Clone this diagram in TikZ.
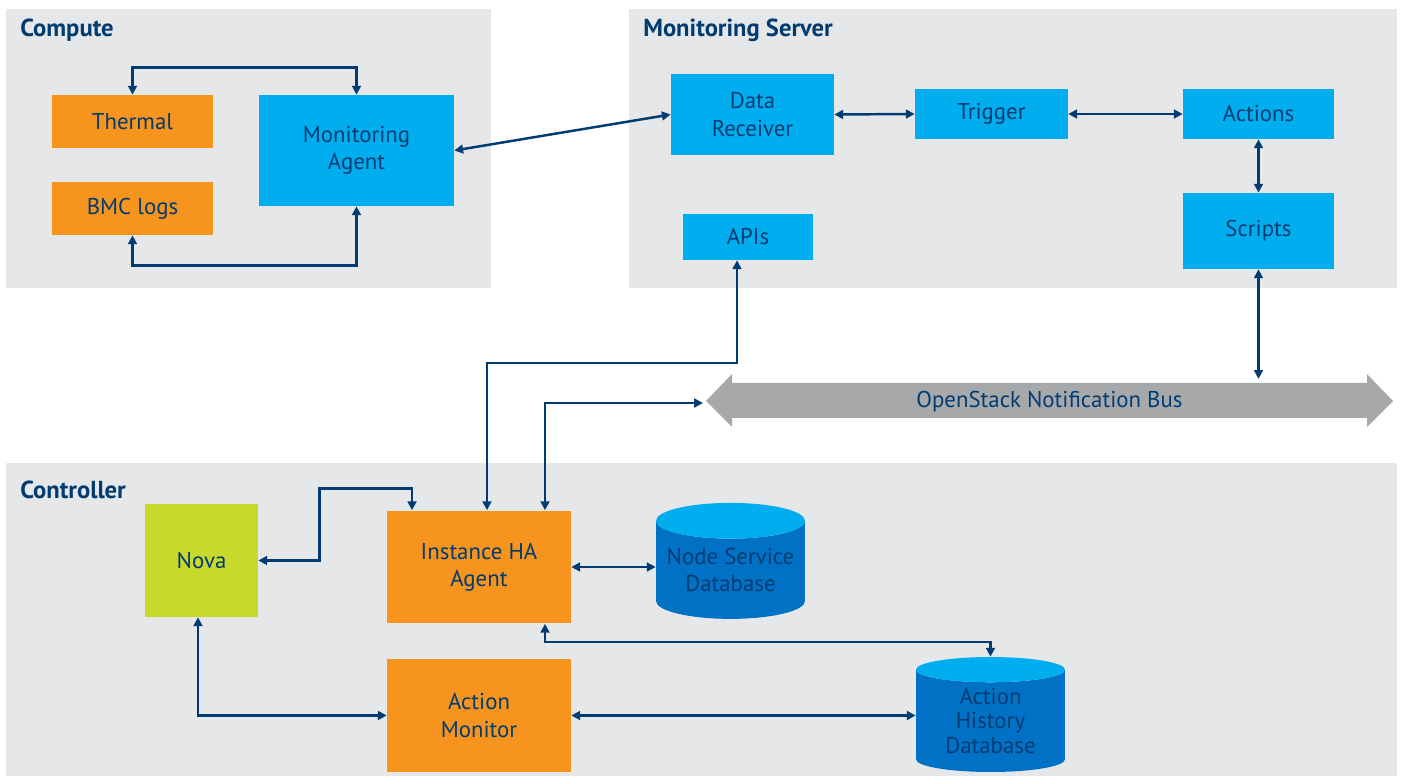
\documentclass[tikz,border=0pt]{standalone}
\usepackage{fontspec}
\setmainfont{PT Sans}
\usetikzlibrary{arrows.meta, shapes.geometric}

\definecolor{marino}{HTML}{003C71}
\definecolor{fondo}{HTML}{E6E7E9}
\definecolor{celeste}{HTML}{00AEEF}
\definecolor{azul}{HTML}{0071C5}
\definecolor{naranja}{HTML}{F7941D}
\definecolor{lima}{HTML}{C8D92B}
\definecolor{gris}{HTML}{A7A8AA}

\begin{document}
\begin{tikzpicture}[x=0.02cm, y=-0.02cm,
    >={Triangle[length=5pt, width=5pt]},
    every node/.style={font=\fontsize{13}{15.5}\selectfont, text=marino, align=center, inner sep=0pt},
    titulo/.style={font=\bfseries\fontsize{14}{16}\selectfont, anchor=west},
    flecha/.style={<->, line width=1.4pt, draw=marino},
    caja/.style={rectangle, fill=celeste},
    base/.style={cylinder, shape border rotate=90, cylinder uses custom fill,
        cylinder body fill=azul, cylinder end fill=celeste, aspect=0.28,
        minimum width=2.98cm, minimum height=2.32cm}]
    \useasboundingbox (0,0) rectangle (1401,776);

    % Paneles
    \fill[fondo] (6,9) rectangle (491,288);
    \fill[fondo] (629,9) rectangle (1397,288);
    \fill[fondo] (6,463) rectangle (1397,776);
    \node[titulo] (tcompute) at (20,30) {Compute};
    \node[titulo] (tserver) at (643,30) {Monitoring Server};
    \node[titulo] (tcontroller) at (20,490) {Controller};

    % Compute
    \node[caja, fill=naranja, minimum width=3.22cm, minimum height=1.06cm] (thermal) at (132.5,121.5) {Thermal};
    \node[caja, fill=naranja, minimum width=3.22cm, minimum height=1.06cm] (bmc) at (132.5,208.5) {BMC logs};
    \node[caja, minimum width=3.9cm, minimum height=2.22cm] (agent) at (356.5,150.5) {Monitoring\\Agent};

    % Monitoring Server
    \node[caja, minimum width=3.26cm, minimum height=1.62cm] (receiver) at (752.5,114.5) {Data\\Receiver};
    \node[caja, minimum width=3.06cm, minimum height=1cm] (trigger) at (991.5,114) {Trigger};
    \node[caja, minimum width=3.02cm, minimum height=1cm] (actions) at (1258.5,114) {Actions};
    \node[caja, minimum width=3.02cm, minimum height=1.52cm] (scripts) at (1258.5,231) {Scripts};
    \node[caja, minimum width=2.6cm, minimum height=0.92cm] (apis) at (748,237) {APIs};

    % Bus
    \fill[gris] (706,401) -- (732,374) -- (732,383) -- (1367,383) -- (1367,374) -- (1393,401)
        -- (1367,427) -- (1367,418) -- (732,418) -- (732,427) -- cycle;
    \node[minimum width=12.7cm, minimum height=0.7cm] (bus) at (1049.5,402) {OpenStack Notification Bus};
    \coordinate (buspunta) at (703,403);

    % Controller
    \node[caja, fill=lima, minimum width=2.26cm, minimum height=2.26cm] (nova) at (201.5,560.5) {Nova};
    \node[caja, fill=naranja, minimum width=3.68cm, minimum height=2.26cm] (ha) at (479,567) {Instance HA\\Agent};
    \node[caja, fill=naranja, minimum width=3.68cm, minimum height=2.26cm] (monitor) at (479,715.5) {Action\\Monitor};
    \node[base] (nodedb) at (730.5,570) {Node Service\\Database};
    \node[base, minimum height=2.3cm, font=\fontsize{13}{13.8}\selectfont] (historydb) at (990.5,721) {Action\\History\\Database};

    % Flechas
    \draw[flecha] (thermal.north) -- ++(0,-27) -| (agent.north);
    \draw[flecha] (bmc.south) -- ++(0,30) -| (agent.south);
    \draw[flecha] (agent.east) -- (receiver.west);
    \draw[flecha] (receiver.east) -- (trigger.west);
    \draw[flecha] (trigger.east) -- (actions.west);
    \draw[flecha] (actions.south) -- (scripts.north);
    \draw[flecha, shorten >=3pt] (scripts.south) -- (scripts.south |- bus.north);
    \draw[flecha] ([xshift=0.16cm]ha.north) -- ++(0,-147) -| ([xshift=-0.22cm]apis.south);
    \draw[flecha] ([xshift=1.32cm]ha.north) |- (buspunta);
    \draw[flecha] (nova.east) -- ++(61,0) -- ++(0,-72) -| ([xshift=-1.34cm]ha.north);
    \draw[flecha] (ha.east) -- (ha.east -| nodedb.west);
    \draw[flecha] ([xshift=1.32cm]ha.south) -- ++(0,18) -| (historydb.north);
    \draw[flecha] ([xshift=-0.07cm]nova.south) |- (monitor.west);
    \draw[flecha] (monitor.east) -- (monitor.east -| historydb.west);
\end{tikzpicture}
\end{document}
